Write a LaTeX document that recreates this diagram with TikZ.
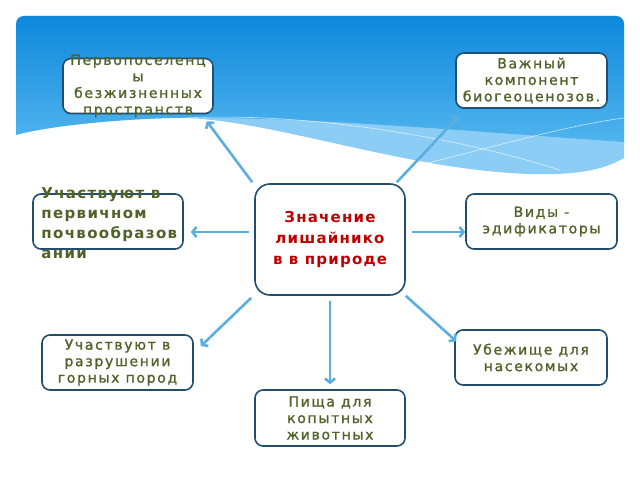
\documentclass[tikz,border=0pt]{standalone}
\usepackage{fontspec}
\setmainfont{DejaVu Sans}
\newfontfamily\widefont[LetterSpace=12, FakeBold=1.2]{DejaVu Sans}
\newfontfamily\leftfont[LetterSpace=9]{DejaVu Sans}
\newfontfamily\redfont[LetterSpace=8]{DejaVu Sans}
\usetikzlibrary{arrows.meta}
\definecolor{olivetext}{RGB}{79,98,40}
\definecolor{redtext}{RGB}{192,0,0}
\definecolor{boxline}{RGB}{33,78,110}
\definecolor{arrowblue}{RGB}{91,175,222}
\definecolor{skytop}{RGB}{14,136,220}
\definecolor{skylow}{RGB}{80,180,238}
\definecolor{skylight}{RGB}{140,205,245}

\begin{document}
\begin{tikzpicture}[x=1pt, y=1pt,
  box/.style={draw=boxline, line width=1.6pt, rounded corners=8pt, fill=white,
    minimum width=150pt, minimum height=55pt, inner sep=0pt},
  txt/.style={text=olivetext, font=\widefont\fontsize{14}{16.5}\selectfont, align=center, inner sep=0pt},
  arr/.style={draw=arrowblue, line width=2.6pt, -{Straight Barb[length=4pt,width=10pt]}}]
  \useasboundingbox (0,0) rectangle (640,480);
  % sky panel with the wave
  \fill[skylight] (16,345) -- (16,456) arc[start angle=180, end angle=90, radius=8] -- (616,464)
    arc[start angle=90, end angle=0, radius=8] -- (624,322)
    .. controls (600,308) and (570,305) .. (530,306)
    .. controls (400,310) and (260,365) .. (170,362)
    .. controls (100,360) and (40,352) .. (16,345) -- cycle;
  \shade[top color=skytop, bottom color=skylow] (16,345) -- (16,456) arc[start angle=180, end angle=90, radius=8] -- (616,464)
    arc[start angle=90, end angle=0, radius=8] -- (624,338)
    .. controls (450,350) and (300,364) .. (170,362)
    .. controls (100,360) and (40,352) .. (16,345) -- cycle;
  \draw[white, opacity=0.7, line width=0.6pt] (185,362) .. controls (300,368) and (450,345) .. (560,310);
  \draw[white, opacity=0.7, line width=0.6pt] (420,315) .. controls (500,335) and (570,355) .. (624,362);
  % boxes
  \node[box] (pervo) at (138,394) {};
  \node[txt] (pervotxt) at (pervo) {Первопоселенц\\ы\\безжизненных\\пространств};
  \node[box, minimum width=151pt, txt] (vazhn) at (531.5,399.5) {Важный\\компонент\\биогеоценозов.};
  \node[box, minimum height=111pt, rounded corners=15pt, text=redtext,
    font=\redfont\bfseries\fontsize{15}{21}\selectfont, align=center] (znach) at (330,240.5) {Значение\\лишайнико\\в в природе};
  \node[box] (pochv) at (108,258.5) {};
  \node[txt, align=left, anchor=west, font=\leftfont\bfseries\fontsize{15}{20}\selectfont] (pochvtxt)
    at ([xshift=9pt, yshift=-1.5pt]pochv.west) {Участвуют в\\первичном\\почвообразов\\ании};
  \node[box, minimum width=151pt, txt] (vidy) at (541.5,258.5) {Виды -\\эдификаторы};
  \node[box, minimum width=151pt, txt] (razr) at (117.5,117.5) {Участвуют в\\разрушении\\горных пород};
  \node[box, minimum width=152pt, txt] (ubezh) at (531,122.5) {Убежище для\\насекомых};
  \node[box, minimum height=56pt, txt] (pishcha) at (330,62) {Пища для\\копытных\\животных};
  % arrows
  \draw[arr] ([shift={(-2,1)}]znach.north west) -- ([shift={(-7,-7)}]pervo.south east);
  \draw[arr] ([shift={(-9,1)}]znach.north east) -- ([shift={(4,-7)}]vazhn.south west);
  \draw[arr] ([shift={(-5,7.5)}]znach.west) -- ([shift={(7,-10.5)}]pochv.east);
  \draw[arr] ([shift={(6,7.5)}]znach.east) -- ([shift={(0,-10.5)}]vidy.west);
  \draw[arr] ([shift={(-3,-2)}]znach.south west) -- ([shift={(7,-12)}]razr.north east);
  \draw[arr] (znach.south east) -- ([shift={(2,-12)}]ubezh.north west);
  \draw[arr] ([yshift=-5pt]znach.south) -- ([yshift=5pt]pishcha.north);
\end{tikzpicture}
\end{document}
